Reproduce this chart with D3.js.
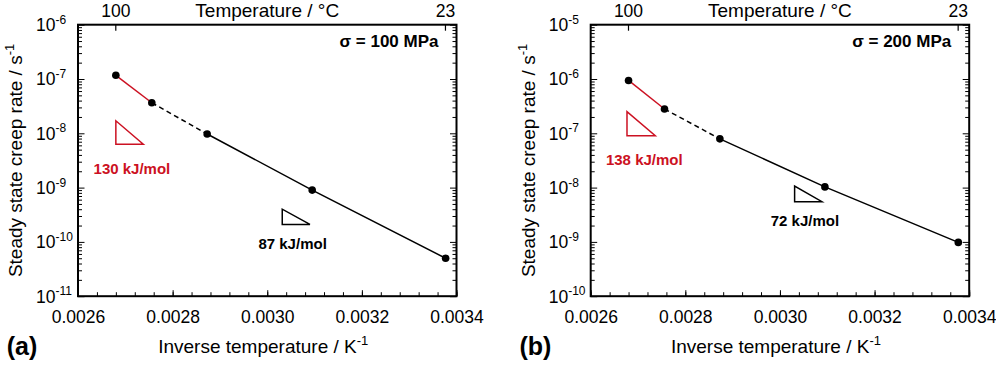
<!DOCTYPE html>
<html>
<head>
<meta charset="utf-8">
<script src="https://cdn.jsdelivr.net/npm/d3@7"></script>
<style>
  body { margin: 0; background: #fff; }
  text { font-family: Arial, "Liberation Sans", sans-serif; fill: #000; }
</style>
</head>
<body>
<div id="chart-area"></div>
<script>
// data
let invT = [0.002680, 0.002756, 0.002873, 0.003095, 0.003377];
let rate100 = [1.17e-7, 3.65e-8, 9.7e-9, 9.0e-10, 5.0e-11];
let rate200 = [9.4e-7, 2.8e-7, 7.9e-8, 1.03e-8, 9.8e-10];
let xTicks = [0.0026, 0.0028, 0.0030, 0.0032, 0.0034];
let tempTicks = [100, 23];
let yDomain100 = [1e-11, 1e-6];
let yDomain200 = [1e-10, 1e-5];
// slope triangles: [x0, x1, yTop, yBottom], label position [x, y]
let tri100 = [
    {box: [0.00268, 0.002738, 1.7e-8, 6.3e-9], lab: [0.002714, 1.81e-9], text: "130 kJ/mol", red: true},
    {box: [0.0030317, 0.0030902, 4.0e-10, 2.1e-10], lab: [0.0030536, 7.5e-11], text: "87 kJ/mol", red: false}
];
let tri200 = [
    {box: [0.0026767, 0.0027365, 2.5e-7, 9.0e-8], lab: [0.0027133, 2.62e-8], text: "138 kJ/mol", red: true},
    {box: [0.003031, 0.0030887, 1.07e-8, 5.5e-9], lab: [0.0030528, 1.95e-9], text: "72 kJ/mol", red: false}
];

let red = "#cc1122";
let width = 378.5, height = 271.5;

let svg = d3.select("#chart-area")
            .append("svg")
            .attr("width", 996)
            .attr("height", 365);

function panel(left, rates, yDomain, tris, stressText, tag) {
    let g = svg.append("g")
                .attr("transform", "translate(" + left + ",24.7)");

    let x = d3.scaleLinear().domain([0.0026, 0.0034]).range([0, width]);
    let y = d3.scaleLog().domain(yDomain).range([height, 0]);

    // x axis, ticks inside
    let xMinor = d3.range(0, 21).map(i => 0.0026 + i * 0.00004);
    g.append("g")
        .attr("transform", "translate(0," + height + ")")
        .call(d3.axisBottom(x).tickValues(xMinor).tickSize(-4).tickFormat(""))
        .call(a => a.select(".domain").remove());
    let xAxis = g.append("g")
        .attr("transform", "translate(0," + height + ")")
        .call(d3.axisBottom(x).tickValues(xTicks).tickSize(-6).tickPadding(14)
              .tickFormat(d3.format(".4f")));
    xAxis.select(".domain").remove();
    xAxis.selectAll("text").attr("font-size", "17.5px").attr("dy", "0.71em");

    // y axis left and right
    let yMinor = [];
    let lo = Math.round(Math.log10(yDomain[0])), hi = Math.round(Math.log10(yDomain[1]));
    for (let e = lo; e < hi; e++) {
        for (let m = 2; m <= 9; m++) yMinor.push(m * Math.pow(10, e));
    }
    let yMajor = d3.range(lo, hi + 1).map(e => Math.pow(10, e));
    [[d3.axisLeft, 0], [d3.axisRight, width]].forEach(function(s) {
        g.append("g")
            .attr("transform", "translate(" + s[1] + ",0)")
            .call(s[0](y).tickValues(yMinor).tickSize(-4).tickFormat(""))
            .call(a => a.select(".domain").remove());
        g.append("g")
            .attr("transform", "translate(" + s[1] + ",0)")
            .call(s[0](y).tickValues(yMajor).tickSize(-6.5).tickFormat(""))
            .call(a => a.select(".domain").remove());
    });

    // y tick labels 10^n
    yMajor.forEach(function(v) {
        let t = g.append("text")
            .attr("x", -42)
            .attr("y", y(v) + 6.5)
            .attr("font-size", "17.5px");
        t.append("tspan").text("10");
        t.append("tspan").attr("font-size", "12px").attr("dy", -7.5)
            .text(String(Math.round(Math.log10(v))));
    });

    // top axis: temperature
    tempTicks.forEach(function(c) {
        let xx = x(1 / (c + 273.15));
        g.append("line")
            .attr("x1", xx).attr("x2", xx)
            .attr("y1", 0).attr("y2", 6)
            .attr("stroke", "#000").attr("stroke-width", 1.2);
        g.append("text")
            .attr("x", xx).attr("y", -7.5)
            .attr("text-anchor", "middle")
            .attr("font-size", "17.5px")
            .text(c);
    });
    g.append("text")
        .attr("x", width / 2).attr("y", -7.5)
        .attr("text-anchor", "middle")
        .attr("font-size", "19px")
        .text("Temperature / °C");

    // frame
    g.append("rect")
        .attr("width", width).attr("height", height)
        .attr("fill", "none").attr("stroke", "#000").attr("stroke-width", 2);

    // axis titles
    let xt = g.append("text")
        .attr("x", width / 2 - 4).attr("y", 328.5)
        .attr("text-anchor", "middle")
        .attr("font-size", "19px");
    xt.append("tspan").text("Inverse temperature / K");
    xt.append("tspan").attr("font-size", "13px").attr("dy", -8).text("-1");

    let yt = g.append("text")
        .attr("transform", "translate(-56," + (height / 2) + ") rotate(-90)")
        .attr("text-anchor", "middle")
        .attr("font-size", "19px");
    yt.append("tspan").text("Steady state creep rate / s");
    yt.append("tspan").attr("font-size", "13px").attr("dy", -8).text("-1");

    g.append("text")
        .attr("x", width - 18).attr("y", 22.3)
        .attr("text-anchor", "end")
        .attr("font-size", "17px")
        .attr("font-weight", "bold")
        .text(stressText);

    g.append("text")
        .attr("x", -71.3).attr("y", 330)
        .attr("font-size", "25px")
        .attr("font-weight", "bold")
        .text(tag);

    // lines
    let pts = invT.map((v, i) => [x(v), y(rates[i])]);
    let line = d3.line();
    g.append("path").attr("d", line(pts.slice(0, 2)))
        .attr("fill", "none").attr("stroke", red).attr("stroke-width", 1.5);
    g.append("path").attr("d", line(pts.slice(1, 3)))
        .attr("fill", "none").attr("stroke", "#000").attr("stroke-width", 1.5)
        .attr("stroke-dasharray", "5,3.5");
    g.append("path").attr("d", line(pts.slice(2)))
        .attr("fill", "none").attr("stroke", "#000").attr("stroke-width", 1.5);

    g.selectAll("circle")
        .data(pts)
        .enter()
        .append("circle")
        .attr("cx", d => d[0])
        .attr("cy", d => d[1])
        .attr("r", 3.8)
        .attr("fill", "#000");

    // slope triangles
    tris.forEach(function(t) {
        let c = t.red ? red : "#000";
        let b = t.box;
        let poly = [[x(b[0]), y(b[2])], [x(b[0]), y(b[3])], [x(b[1]), y(b[3])]];
        g.append("path")
            .attr("d", d3.line()(poly) + "Z")
            .attr("fill", "none").attr("stroke", c).attr("stroke-width", 1.5);
        g.append("text")
            .attr("x", x(t.lab[0])).attr("y", y(t.lab[1]))
            .attr("text-anchor", "middle")
            .attr("font-size", "15px")
            .attr("font-weight", "bold")
            .style("fill", c)
            .text(t.text);
    });
}

panel(78, rate100, yDomain100, tri100, "σ = 100 MPa", "(a)");
panel(590.7, rate200, yDomain200, tri200, "σ = 200 MPa", "(b)");
</script>
</body>
</html>
